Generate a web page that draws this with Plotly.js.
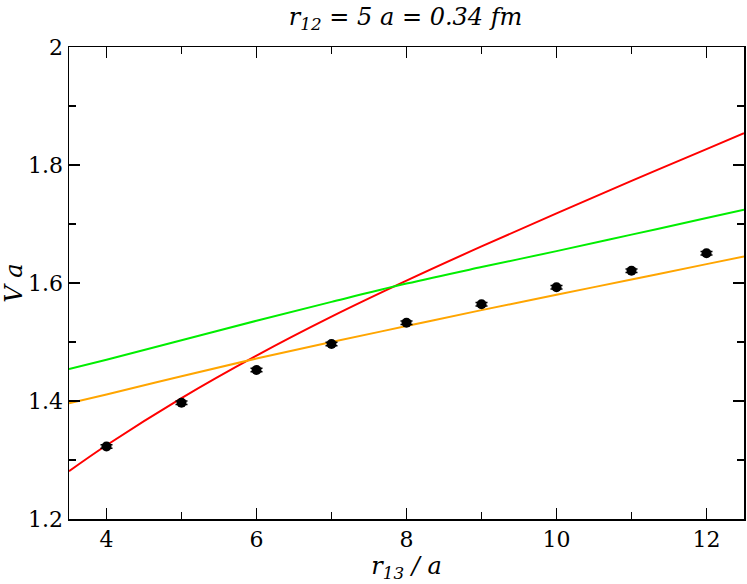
<!DOCTYPE html>
<html>
<head>
<meta charset="utf-8">
<script src="https://cdn.plot.ly/plotly-3.0.1.min.js"></script>
<style>
  html, body { margin: 0; padding: 0; background: #fff; }
  #canvas { width: 747px; height: 584px; }
</style>
</head>
<body>
<div id="canvas"></div>
<script>
// lattice data points
const r13 = [4, 5, 6, 7, 8, 9, 10, 11, 12];
const Va = [1.323, 1.397, 1.4525, 1.4966, 1.5327, 1.5639, 1.5927, 1.6209, 1.6503];
const Va_err = [0.003, 0.003, 0.003, 0.003, 0.003, 0.003, 0.003, 0.003, 0.003];

// curves
const curve_x = [3.5, 4, 5, 6, 7, 8, 9, 10, 11, 12, 12.5];
const red_y = [1.281, 1.325, 1.405, 1.477, 1.543, 1.604, 1.662, 1.718, 1.773, 1.827, 1.854];
const green_y = [1.454, 1.470, 1.503, 1.536, 1.568, 1.599, 1.627, 1.654, 1.682, 1.710, 1.724];
const orange_y = [1.396, 1.411, 1.442, 1.472, 1.500, 1.527, 1.554, 1.580, 1.606, 1.632, 1.645];

// Liberation Serif isn't picked up here, DejaVu Serif is
const FONT = "DejaVu Serif";

var getPlotData = () => [
    { x: curve_x, y: red_y, mode: "lines", line: { color: "#ff0000", width: 2, shape: "spline" }, hoverinfo: "skip" },
    { x: curve_x, y: green_y, mode: "lines", line: { color: "#00ee00", width: 2, shape: "spline" }, hoverinfo: "skip" },
    { x: curve_x, y: orange_y, mode: "lines", line: { color: "#ffa500", width: 2, shape: "spline" }, hoverinfo: "skip" },
    {
        x: r13, y: Va, mode: "markers",
        marker: { color: "#000", size: 10 },
        error_y: { type: "data", array: Va_err, visible: true, color: "#000", thickness: 1.5, width: 6 },
    },
];

var axisBase = {
    showgrid: false,
    zeroline: false,
    showline: true,
    linecolor: "#000",
    linewidth: 1.5,
    mirror: "ticks",
    ticks: "inside",
    ticklen: 11,
    tickwidth: 1.2,
    tickcolor: "#000",
    tickfont: { family: FONT, size: 22, color: "#000" },
};

var getPlotLayout = () => ({
    width: 747,
    height: 584,
    margin: { l: 69, r: 3, t: 47, b: 65 },
    paper_bgcolor: "#fff",
    plot_bgcolor: "#fff",
    showlegend: false,
    font: { family: FONT, color: "#000" },
    title: {
        text: "<i>r<sub>12</sub> = 5 a = 0.34 fm</i>",
        font: { family: FONT, size: 24, color: "#000" },
        x: 0.543, xanchor: "center",
        y: 0.972, yanchor: "middle",
    },
    xaxis: Object.assign({}, axisBase, {
        range: [3.5, 12.5],
        tick0: 4, dtick: 2,
        minor: { dtick: 1, ticks: "inside", ticklen: 7, tickwidth: 1.2, tickcolor: "#000" },
        title: { text: "<i>r<sub>13</sub> / a</i>", font: { family: FONT, size: 24, color: "#000" }, standoff: 6 },
    }),
    yaxis: Object.assign({}, axisBase, {
        range: [1.2, 2.0],
        tick0: 1.2, dtick: 0.2,
        minor: { dtick: 0.1, ticks: "inside", ticklen: 7, tickwidth: 1.2, tickcolor: "#000" },
        title: { text: "<i>V a</i>", font: { family: FONT, size: 24, color: "#000" }, standoff: 4 },
    }),
});

function drawPlot() {
    Plotly.newPlot("canvas", getPlotData(), getPlotLayout(), { staticPlot: true });
}

drawPlot();
</script>
</body>
</html>
